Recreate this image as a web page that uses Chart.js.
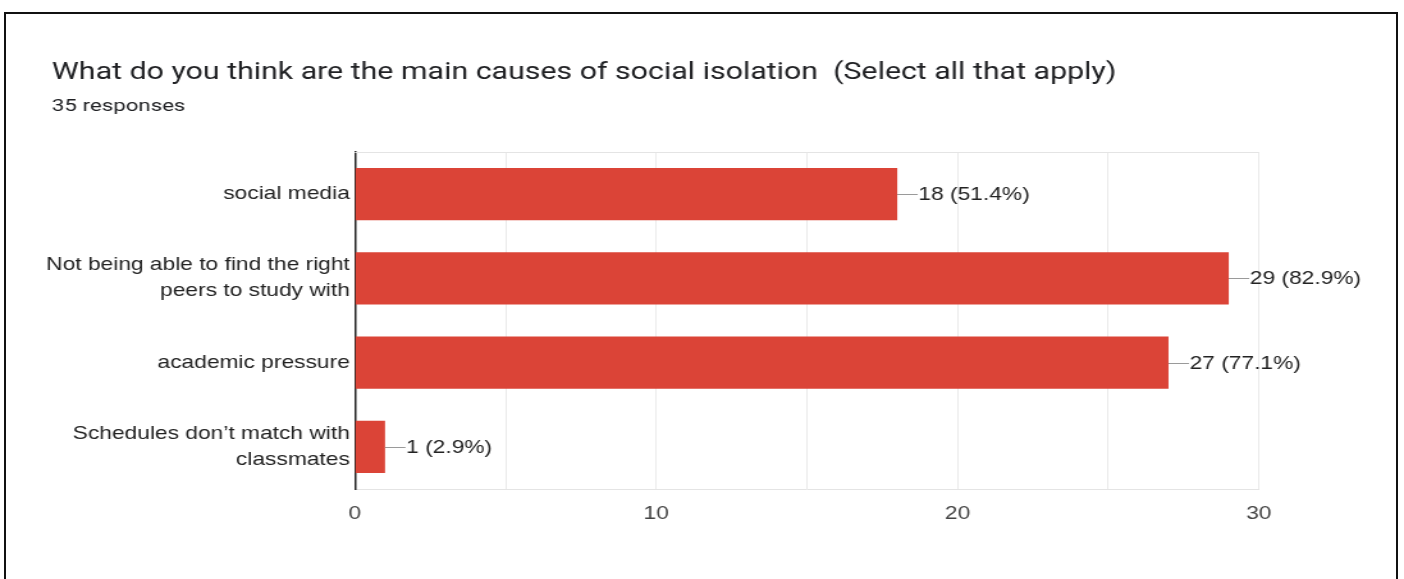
<!DOCTYPE html>
<html>
<head>
<meta charset="utf-8">
<script src="https://cdn.jsdelivr.net/npm/chart.js@4"></script>
<style>
  html, body { margin: 0; padding: 0; background: #ffffff; overflow: hidden; }
  body { width: 1404px; height: 579px; position: relative; }
  #frame {
    position: absolute; left: 4px; top: 12px; width: 1394px; height: 620px;
    box-sizing: border-box; border: 2px solid #111; pointer-events: none;
  }
  #c { position: absolute; left: 0; top: 0; }
</style>
</head>
<body>
<canvas id="c" width="1097" height="579" style="width:1404px;height:579px;"></canvas>
<div id="frame"></div>
<script>
// ---- data ----
const chartTitle = 'What do you think are the main causes of social isolation  (Select all that apply)';
const responsesText = '35 responses';
const totalResponses = 35;
const categories = [
  'social media',
  ['Not being able to find the right', 'peers to study with'],
  'academic pressure',
  ['Schedules don\u2019t match with', 'classmates']
];
const counts = [18, 29, 27, 1];
const xTickLabels = [0, 10, 20, 30];
const xMax = 30;
const xGridStep = 5;

// ---- styling ----
const labelFont = { family: "'Liberation Sans', Arial, sans-serif", size: 17.8 };

const valueLabels = {
  id: 'valueLabels',
  afterLayout(chart) {
    // indent title + subtitle to the same left edge as in the original
    chart.boxes.forEach(b => {
      if (b.fullSize && b.position === 'top' && b.options && typeof b.options.text === 'string') {
        b.left += 10.6;
      }
    });
  },
  beforeDatasetsDraw(chart) {
    const { ctx, chartArea } = chart;
    ctx.save();
    ctx.strokeStyle = '#e4e4e4';
    ctx.lineWidth = 1;
    ctx.beginPath();
    ctx.moveTo(chartArea.left, Math.round(chartArea.top) + 0.5);
    ctx.lineTo(chartArea.right, Math.round(chartArea.top) + 0.5);
    ctx.stroke();
    ctx.restore();
  },
  afterDatasetsDraw(chart) {
    const { ctx } = chart;
    const meta = chart.getDatasetMeta(0);
    ctx.save();
    ctx.font = `${labelFont.size}px ${labelFont.family}`;
    ctx.textBaseline = 'middle';
    ctx.textAlign = 'left';
    meta.data.forEach((bar, i) => {
      const v = counts[i];
      const pct = (v / totalResponses * 100).toFixed(1);
      const x0 = bar.x;
      const y = bar.y;
      ctx.strokeStyle = '#9a9a9a';
      ctx.lineWidth = 1;
      ctx.beginPath();
      ctx.moveTo(x0, Math.round(y) + 0.5);
      ctx.lineTo(x0 + 16, Math.round(y) + 0.5);
      ctx.stroke();
      ctx.fillStyle = '#222222';
      ctx.fillText(`${v} (${pct}%)`, x0 + 16.5, y + 1);
    });
    ctx.restore();
  }
};

new Chart(document.getElementById('c'), {
  type: 'bar',
  data: {
    labels: categories,
    datasets: [{
      data: counts,
      backgroundColor: '#DB4437',
      borderWidth: 0,
      barPercentage: 0.62,
      categoryPercentage: 1.0
    }]
  },
  options: {
    indexAxis: 'y',
    responsive: false,
    devicePixelRatio: 1,
    animation: false,
    events: [],
    layout: { padding: { left: 30, right: 113.4, top: 0, bottom: 0 } },
    plugins: {
      legend: { display: false },
      tooltip: { enabled: false },
      title: {
        display: true,
        text: chartTitle,
        align: 'start',
        color: '#202124',
        font: { family: 'Roboto', size: 23.7, weight: 'normal', lineHeight: 1.2 },
        padding: { top: 58.6, bottom: 0 }
      },
      subtitle: {
        display: true,
        text: responsesText,
        align: 'start',
        color: '#202124',
        font: { family: 'Roboto', size: 17.4, weight: 'normal', lineHeight: 1.2 },
        padding: { top: 9.5, bottom: 34.56 }
      }
    },
    scales: {
      x: {
        type: 'linear',
        position: 'bottom',
        min: 0,
        max: xMax,
        afterBuildTicks(scale) {
          const t = [];
          for (let v = 0; v <= xMax; v += xGridStep) t.push({ value: v });
          scale.ticks = t;
        },
        ticks: {
          color: '#444444',
          font: labelFont,
          padding: 14.5,
          maxRotation: 0,
          autoSkip: false,
          callback: (v) => xTickLabels.includes(v) ? String(v) : ''
        },
        grid: {
          drawTicks: false,
          color: (ctx) => (ctx.tick && ctx.tick.value === 0) ? 'rgba(0,0,0,0)' : '#ebebeb',
          lineWidth: 1
        },
        border: { display: true, color: '#e4e4e4', width: 1 },
        afterFit(scale) {
          scale.height = 90;
          scale.paddingLeft = 0;
          scale.paddingRight = 0;
        }
      },
      y: {
        type: 'category',
        position: 'left',
        ticks: {
          color: '#222222',
          font: { family: labelFont.family, size: labelFont.size, lineHeight: 1.46 },
          padding: 4,
          autoSkip: false
        },
        grid: { display: false, drawTicks: false },
        border: { display: true, color: '#222222', width: 1.5 },
        afterFit(scale) {
          scale.width = 247.3;
          scale.paddingTop = 0;
          scale.paddingBottom = 0;
        }
      }
    }
  },
  plugins: [valueLabels]
});
</script>
</body>
</html>
